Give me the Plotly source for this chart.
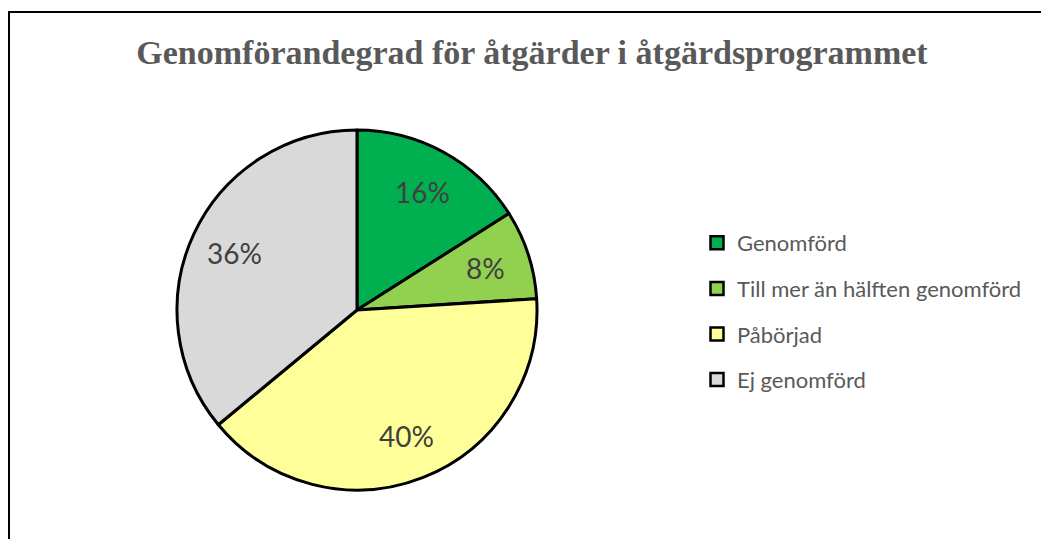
import math
import plotly.graph_objects as go

title = "Genomförandegrad för åtgärder i åtgärdsprogrammet"
categories = ["Genomförd", "Till mer än hälften genomförd", "Påbörjad", "Ej genomförd"]
values = [16, 8, 40, 36]
colors = ["#00B050", "#92D050", "#FFFF99", "#D9D9D9"]

W, H = 1041, 539
cx_px, cy_px, R_px = 357, 310, 180

fig = go.Figure()
fig.add_trace(go.Pie(
    labels=categories, values=values, sort=False, direction="clockwise", rotation=0,
    marker=dict(colors=colors, line=dict(color="black", width=3)),
    textinfo="none", hoverinfo="label+percent", showlegend=False,
    domain=dict(x=[(cx_px - R_px) / W, (cx_px + R_px) / W],
                y=[1 - (cy_px + R_px) / H, 1 - (cy_px - R_px) / H]),
))

# legend entries
for i, (c, col) in enumerate(zip(categories, colors)):
    fig.add_trace(go.Scatter(
        x=[None], y=[None], mode="markers", name=c, legendgroup=f"g{i}",
        marker=dict(symbol="square", size=13, color=col, line=dict(color="black", width=2.5)),
    ))

# percentage labels
total = sum(values)
cum = 0
for v in values:
    mid = (cum + v / 2) / total * 2 * math.pi
    cum += v
    r = 0.75 * R_px
    x = (cx_px + r * math.sin(mid)) / W
    y = 1 - (cy_px - r * math.cos(mid)) / H
    fig.add_annotation(x=x, y=y, xref="paper", yref="paper", showarrow=False,
                       xanchor="center", yanchor="middle",
                       text=f"{round(v / total * 100)}%",
                       font=dict(family="Lato, Liberation Sans, sans-serif", size=28, color="#404040"))

fig.add_shape(type="rect", xref="paper", yref="paper",
              x0=9 / W, x1=1.2, y0=-0.2, y1=1 - 12 / H,
              line=dict(color="black", width=2), layer="above")

fig.update_layout(
    width=W, height=H, margin=dict(l=0, r=0, t=0, b=0),
    paper_bgcolor="white", plot_bgcolor="white",
    title=dict(text=f"<b>{title}</b>", x=532 / W, xanchor="center", y=1 - 52 / H, yanchor="middle",
               font=dict(family="Liberation Serif, DejaVu Serif, serif", size=34, color="#595959")),
    xaxis=dict(visible=False), yaxis=dict(visible=False),
    legend=dict(x=697 / W, y=1 - 222 / H, xanchor="left", yanchor="top",
                font=dict(family="Lato, Liberation Sans, sans-serif", size=22, color="#595959"),
                tracegroupgap=14, itemwidth=30, bgcolor="rgba(0,0,0,0)"),
)

fig.write_html("out.html", config={"displayModeBar": False},
               post_script="document.body.style.margin='0';document.body.style.overflow='hidden';")
